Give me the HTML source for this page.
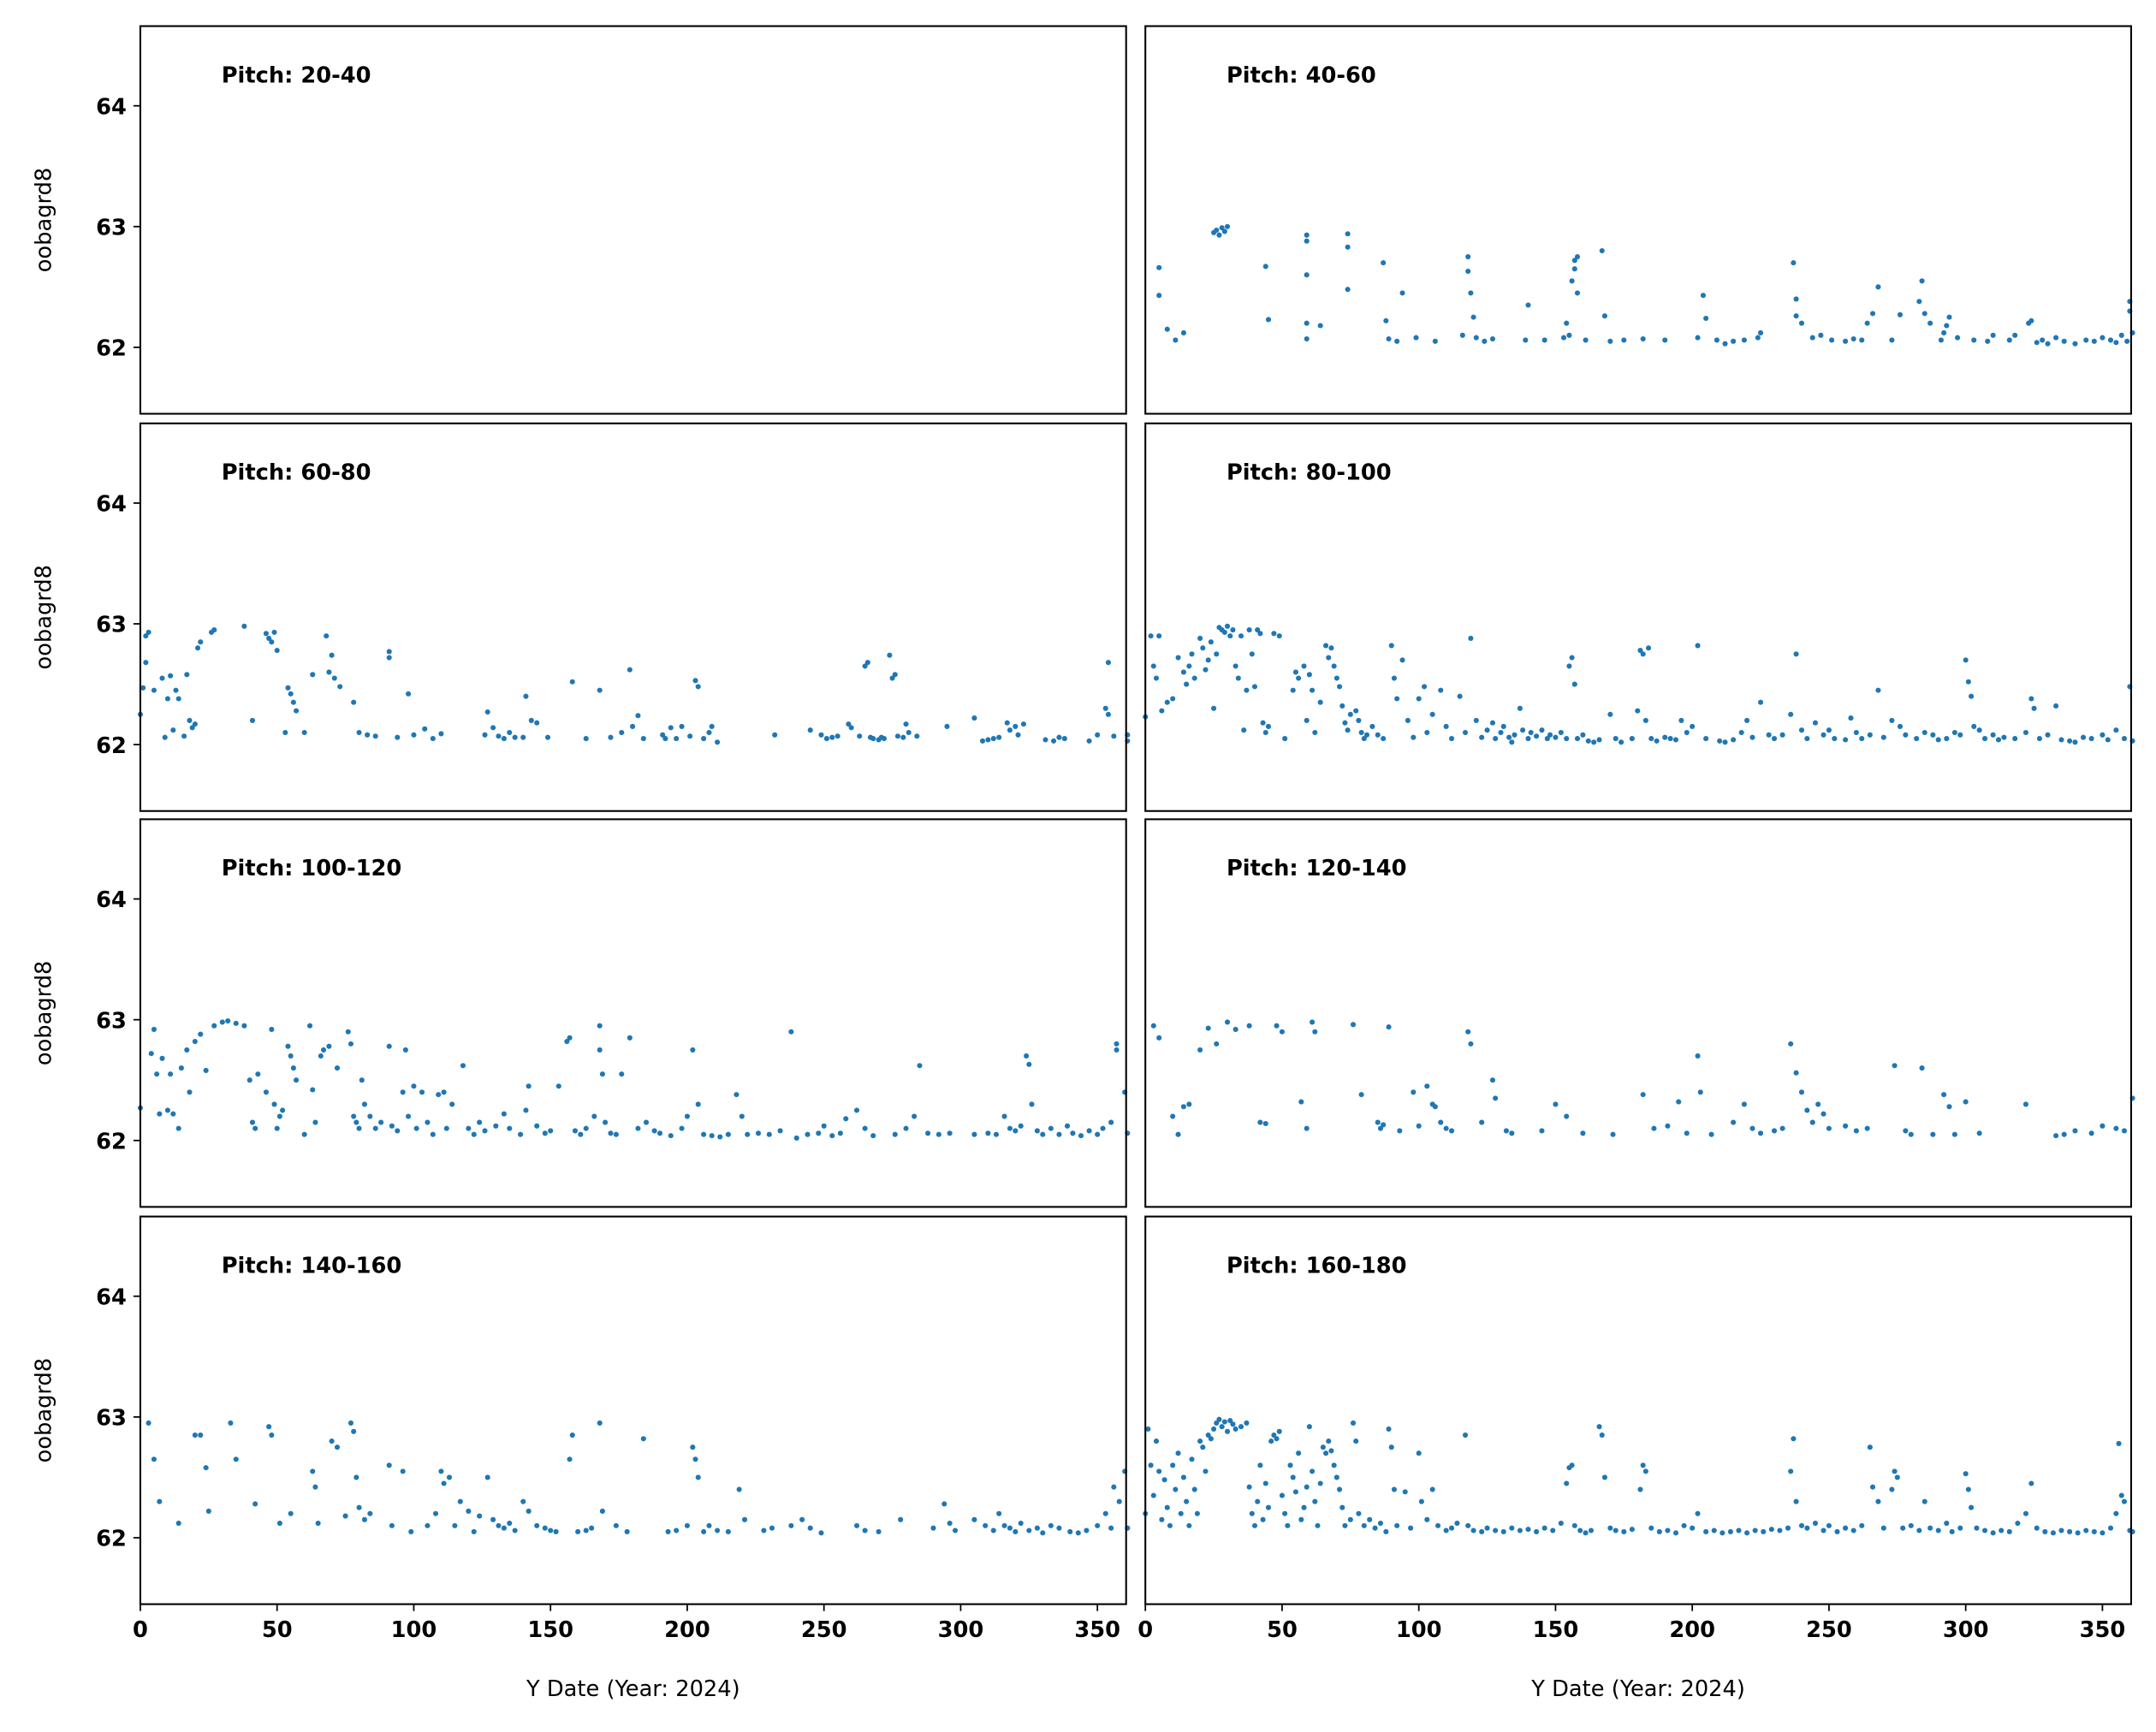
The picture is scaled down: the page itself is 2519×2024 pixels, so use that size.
<!DOCTYPE html>
<html><head><meta charset="utf-8"><style>
html,body{margin:0;padding:0;background:#fff;}
svg{display:block;}
text{font-family:"DejaVu Sans","Liberation Sans",sans-serif;}
</style></head><body>
<svg id="chart" width="2519" height="2024" viewBox="0 0 1568 1260" xmlns="http://www.w3.org/2000/svg"></svg>
<script>
const xTicks=[0,50,100,150,200,250,300,350];
const yTicks=[62,63,64];
const titles=["Pitch: 20-40","Pitch: 40-60","Pitch: 60-80","Pitch: 80-100","Pitch: 100-120","Pitch: 120-140","Pitch: 140-160","Pitch: 160-180"];
const p1=[];
const p2=[[5,62.66],[5,62.43],[8,62.15],[11,62.06],[14,62.12],[25,62.95],[26,62.97],[27,62.93],[28,62.99],[29,62.96],[30,63.0],[44,62.67],[45,62.23],[59,62.93],[59,62.88],[59,62.6],[59,62.2],[59,62.07],[64,62.18],[74,62.94],[74,62.83],[74,62.48],[87,62.7],[88,62.22],[89,62.07],[92,62.05],[94,62.45],[99,62.08],[106,62.05],[116,62.1],[118,62.75],[118,62.63],[119,62.45],[120,62.25],[121,62.08],[124,62.05],[127,62.07],[139,62.06],[140,62.35],[146,62.06],[153,62.08],[154,62.2],[155,62.1],[156,62.55],[157,62.72],[157,62.65],[158,62.75],[158,62.45],[161,62.06],[167,62.8],[168,62.26],[170,62.05],[175,62.06],[182,62.07],[190,62.06],[202,62.08],[204,62.43],[205,62.24],[209,62.06],[212,62.03],[215,62.05],[219,62.06],[224,62.08],[225,62.12],[237,62.7],[238,62.4],[238,62.26],[240,62.2],[244,62.08],[247,62.1],[251,62.06],[256,62.05],[259,62.07],[262,62.06],[264,62.2],[266,62.28],[268,62.5],[273,62.06],[276,62.27],[283,62.38],[284,62.55],[285,62.28],[287,62.2],[291,62.06],[292,62.12],[293,62.18],[294,62.25],[297,62.08],[303,62.06],[308,62.05],[310,62.1],[316,62.06],[318,62.1],[323,62.2],[324,62.22],[326,62.04],[328,62.06],[330,62.03],[333,62.08],[336,62.05],[340,62.03],[344,62.06],[347,62.05],[350,62.08],[353,62.06],[355,62.04],[357,62.1],[359,62.05],[360,62.38],[360,62.3],[361,62.12]];
const p3=[[0,62.25],[2,62.9],[3,62.93],[2,62.68],[1,62.47],[5,62.45],[8,62.55],[9,62.06],[10,62.38],[11,62.57],[12,62.12],[13,62.45],[14,62.38],[16,62.07],[17,62.58],[18,62.2],[19,62.14],[20,62.17],[21,62.8],[22,62.85],[26,62.93],[27,62.95],[38,62.98],[41,62.2],[46,62.92],[47,62.88],[48,62.85],[49,62.93],[50,62.78],[53,62.1],[54,62.47],[55,62.42],[56,62.35],[57,62.28],[60,62.1],[63,62.58],[68,62.9],[69,62.6],[70,62.74],[71,62.55],[73,62.48],[78,62.35],[80,62.1],[83,62.08],[86,62.07],[91,62.77],[91,62.72],[94,62.06],[98,62.42],[100,62.08],[104,62.13],[107,62.05],[110,62.09],[126,62.08],[127,62.27],[129,62.14],[131,62.07],[133,62.05],[135,62.1],[137,62.06],[140,62.06],[141,62.4],[143,62.2],[145,62.18],[149,62.06],[158,62.52],[163,62.05],[168,62.45],[172,62.06],[176,62.1],[179,62.62],[180,62.15],[182,62.24],[184,62.05],[191,62.08],[192,62.05],[194,62.14],[196,62.05],[198,62.15],[201,62.07],[203,62.53],[204,62.48],[206,62.05],[208,62.1],[209,62.15],[211,62.02],[232,62.08],[245,62.12],[249,62.08],[251,62.05],[253,62.06],[255,62.07],[259,62.17],[260,62.14],[263,62.07],[265,62.65],[266,62.68],[267,62.06],[268,62.05],[270,62.04],[271,62.06],[272,62.05],[274,62.74],[275,62.55],[276,62.58],[277,62.07],[279,62.06],[280,62.17],[281,62.1],[284,62.07],[295,62.15],[305,62.22],[308,62.03],[310,62.04],[312,62.05],[314,62.06],[317,62.18],[318,62.12],[320,62.15],[321,62.08],[323,62.17],[331,62.04],[334,62.03],[336,62.06],[338,62.05],[347,62.03],[350,62.08],[354,62.68],[353,62.3],[354,62.25],[356,62.07],[361,62.03],[361,62.08]];
const p4=[[0,62.23],[2,62.9],[3,62.65],[4,62.55],[5,62.9],[6,62.28],[8,62.35],[10,62.38],[12,62.72],[14,62.6],[15,62.5],[16,62.65],[17,62.75],[18,62.55],[20,62.88],[21,62.8],[22,62.62],[23,62.7],[24,62.85],[25,62.3],[26,62.75],[27,62.97],[28,62.95],[29,62.93],[30,62.98],[31,62.9],[32,62.95],[33,62.65],[34,62.55],[35,62.9],[36,62.12],[37,62.45],[38,62.95],[39,62.75],[40,62.48],[41,62.95],[42,62.92],[43,62.18],[44,62.1],[45,62.15],[47,62.92],[49,62.9],[51,62.05],[54,62.45],[55,62.6],[56,62.55],[58,62.65],[59,62.2],[60,62.58],[61,62.45],[62,62.1],[64,62.35],[66,62.82],[67,62.72],[68,62.8],[69,62.65],[70,62.55],[71,62.48],[72,62.32],[73,62.18],[74,62.12],[75,62.25],[77,62.28],[78,62.2],[79,62.1],[80,62.05],[81,62.08],[83,62.15],[85,62.08],[87,62.05],[90,62.82],[91,62.55],[92,62.38],[94,62.7],[96,62.2],[98,62.06],[100,62.38],[102,62.48],[103,62.1],[105,62.25],[108,62.45],[110,62.15],[112,62.05],[115,62.4],[117,62.1],[119,62.88],[121,62.2],[123,62.06],[125,62.12],[127,62.18],[128,62.05],[130,62.1],[131,62.15],[133,62.06],[134,62.02],[135,62.08],[137,62.3],[138,62.12],[140,62.05],[141,62.1],[143,62.07],[145,62.12],[147,62.05],[148,62.08],[150,62.06],[152,62.1],[154,62.05],[155,62.65],[156,62.72],[157,62.5],[158,62.05],[160,62.08],[162,62.03],[164,62.02],[166,62.04],[170,62.25],[172,62.05],[174,62.02],[178,62.05],[180,62.28],[181,62.78],[182,62.75],[183,62.2],[184,62.8],[185,62.05],[187,62.03],[190,62.06],[192,62.05],[194,62.04],[196,62.2],[198,62.1],[200,62.15],[202,62.82],[205,62.05],[210,62.03],[212,62.02],[215,62.04],[218,62.1],[220,62.2],[222,62.06],[225,62.35],[228,62.08],[230,62.05],[233,62.08],[236,62.25],[238,62.75],[240,62.12],[242,62.05],[245,62.18],[248,62.08],[250,62.12],[252,62.05],[256,62.04],[258,62.22],[260,62.1],[262,62.05],[265,62.08],[268,62.45],[270,62.06],[273,62.2],[276,62.15],[278,62.08],[282,62.05],[285,62.1],[288,62.08],[290,62.04],[293,62.05],[296,62.1],[298,62.08],[300,62.7],[301,62.52],[302,62.4],[303,62.15],[305,62.12],[307,62.05],[310,62.08],[312,62.04],[314,62.06],[318,62.05],[322,62.1],[324,62.38],[325,62.3],[327,62.05],[330,62.08],[333,62.32],[335,62.04],[338,62.03],[340,62.02],[343,62.06],[346,62.05],[350,62.08],[352,62.04],[355,62.12],[358,62.05],[360,62.48],[361,62.03]];
const p5=[[0,62.27],[5,62.92],[4,62.72],[6,62.55],[7,62.22],[8,62.68],[10,62.25],[11,62.55],[12,62.22],[14,62.1],[15,62.6],[17,62.75],[18,62.4],[20,62.82],[22,62.88],[24,62.58],[27,62.95],[30,62.98],[32,62.99],[35,62.97],[38,62.95],[40,62.5],[41,62.15],[42,62.1],[43,62.55],[46,62.4],[48,62.92],[49,62.3],[50,62.1],[51,62.2],[52,62.25],[54,62.78],[55,62.7],[56,62.6],[57,62.5],[60,62.05],[62,62.95],[63,62.42],[64,62.15],[66,62.7],[67,62.75],[69,62.78],[72,62.6],[76,62.9],[77,62.8],[78,62.2],[79,62.15],[80,62.1],[81,62.5],[82,62.3],[84,62.2],[86,62.1],[88,62.15],[91,62.78],[92,62.12],[94,62.08],[96,62.4],[97,62.75],[98,62.2],[100,62.45],[101,62.1],[103,62.4],[105,62.15],[107,62.05],[109,62.38],[111,62.4],[112,62.1],[114,62.3],[118,62.62],[120,62.1],[122,62.05],[124,62.15],[126,62.08],[130,62.12],[133,62.22],[135,62.1],[139,62.05],[141,62.25],[142,62.45],[145,62.12],[148,62.06],[150,62.08],[153,62.45],[156,62.82],[157,62.85],[159,62.08],[161,62.05],[163,62.1],[166,62.2],[168,62.95],[168,62.75],[169,62.55],[170,62.15],[172,62.06],[174,62.05],[176,62.55],[179,62.85],[182,62.1],[185,62.15],[188,62.08],[190,62.06],[194,62.04],[198,62.1],[200,62.2],[202,62.75],[204,62.3],[206,62.05],[209,62.04],[212,62.03],[215,62.05],[218,62.38],[220,62.2],[222,62.05],[226,62.06],[230,62.05],[234,62.08],[238,62.9],[240,62.02],[244,62.05],[248,62.06],[250,62.12],[253,62.04],[256,62.06],[258,62.18],[262,62.25],[265,62.1],[268,62.04],[276,62.05],[280,62.1],[283,62.2],[285,62.62],[288,62.06],[292,62.05],[296,62.06],[305,62.05],[310,62.06],[313,62.05],[316,62.2],[318,62.1],[320,62.08],[322,62.12],[324,62.7],[325,62.63],[326,62.3],[328,62.08],[330,62.05],[333,62.1],[336,62.05],[339,62.12],[341,62.06],[344,62.04],[347,62.08],[350,62.05],[352,62.1],[355,62.15],[357,62.8],[357,62.75],[360,62.4],[361,62.06]];
const p6=[[3,62.95],[5,62.85],[10,62.2],[12,62.05],[14,62.28],[16,62.3],[20,62.75],[23,62.93],[26,62.8],[30,62.98],[33,62.92],[38,62.95],[42,62.15],[44,62.14],[48,62.95],[50,62.9],[57,62.32],[59,62.1],[61,62.98],[62,62.9],[76,62.96],[79,62.38],[85,62.15],[86,62.1],[87,62.13],[89,62.94],[93,62.08],[98,62.4],[100,62.12],[103,62.45],[105,62.3],[106,62.28],[108,62.15],[110,62.1],[112,62.08],[118,62.9],[119,62.8],[123,62.15],[127,62.5],[128,62.35],[132,62.08],[134,62.06],[145,62.08],[150,62.3],[154,62.2],[160,62.06],[171,62.05],[182,62.38],[186,62.1],[191,62.12],[195,62.32],[198,62.06],[202,62.7],[203,62.4],[207,62.05],[215,62.15],[219,62.3],[222,62.1],[225,62.06],[230,62.08],[233,62.1],[236,62.8],[238,62.56],[240,62.4],[242,62.25],[244,62.15],[246,62.3],[248,62.22],[250,62.1],[256,62.12],[260,62.08],[264,62.1],[274,62.62],[278,62.08],[280,62.05],[284,62.6],[288,62.05],[292,62.38],[294,62.28],[296,62.05],[300,62.32],[305,62.06],[322,62.3],[333,62.04],[336,62.05],[340,62.08],[346,62.06],[350,62.12],[355,62.1],[358,62.08],[361,62.35]];
const p7=[[3,62.95],[5,62.65],[7,62.3],[14,62.12],[20,62.85],[22,62.85],[24,62.58],[25,62.22],[33,62.95],[35,62.65],[42,62.28],[47,62.92],[48,62.85],[51,62.12],[55,62.2],[63,62.55],[64,62.42],[65,62.12],[70,62.8],[72,62.75],[75,62.18],[77,62.95],[78,62.88],[79,62.5],[80,62.25],[82,62.15],[84,62.2],[91,62.6],[92,62.1],[96,62.55],[99,62.05],[105,62.1],[108,62.2],[110,62.55],[111,62.45],[113,62.5],[115,62.1],[117,62.3],[120,62.22],[122,62.05],[124,62.18],[127,62.5],[129,62.15],[131,62.1],[133,62.08],[135,62.12],[137,62.06],[140,62.3],[142,62.22],[145,62.1],[148,62.08],[150,62.06],[152,62.05],[157,62.65],[158,62.85],[160,62.05],[163,62.06],[165,62.08],[168,62.95],[169,62.22],[174,62.1],[178,62.05],[184,62.82],[193,62.05],[196,62.06],[200,62.1],[202,62.75],[203,62.65],[204,62.5],[206,62.05],[208,62.1],[211,62.06],[215,62.05],[219,62.4],[221,62.15],[228,62.06],[231,62.08],[238,62.1],[242,62.15],[245,62.08],[249,62.04],[262,62.1],[265,62.06],[270,62.05],[278,62.15],[290,62.08],[294,62.28],[296,62.12],[298,62.06],[305,62.15],[309,62.1],[312,62.06],[314,62.2],[316,62.1],[318,62.08],[320,62.05],[322,62.12],[325,62.06],[328,62.08],[330,62.04],[333,62.1],[336,62.08],[340,62.05],[343,62.04],[346,62.06],[350,62.1],[353,62.2],[355,62.08],[356,62.42],[358,62.3],[360,62.55],[361,62.08]];
const p8=[[0,62.2],[1,62.9],[2,62.6],[3,62.35],[4,62.8],[5,62.55],[6,62.15],[7,62.48],[8,62.25],[9,62.1],[10,62.6],[11,62.4],[12,62.7],[13,62.2],[14,62.5],[15,62.3],[16,62.1],[17,62.65],[18,62.4],[19,62.2],[20,62.8],[21,62.75],[22,62.55],[23,62.85],[24,62.82],[25,62.9],[26,62.95],[27,62.98],[28,62.92],[29,62.96],[30,62.88],[31,62.97],[32,62.94],[33,62.9],[35,62.92],[37,62.95],[38,62.42],[39,62.2],[40,62.1],[41,62.3],[42,62.6],[43,62.15],[44,62.45],[45,62.25],[46,62.8],[47,62.85],[48,62.82],[49,62.88],[50,62.35],[51,62.2],[52,62.1],[53,62.6],[54,62.5],[55,62.38],[56,62.7],[57,62.15],[58,62.25],[59,62.42],[60,62.92],[61,62.55],[62,62.3],[63,62.1],[64,62.45],[65,62.75],[66,62.7],[67,62.8],[68,62.72],[69,62.6],[70,62.5],[71,62.4],[72,62.25],[73,62.1],[75,62.15],[76,62.95],[77,62.8],[78,62.2],[80,62.1],[82,62.15],[84,62.08],[86,62.12],[88,62.05],[89,62.9],[90,62.75],[91,62.4],[92,62.1],[95,62.38],[97,62.08],[100,62.7],[101,62.3],[103,62.15],[105,62.4],[107,62.1],[110,62.06],[112,62.08],[114,62.12],[117,62.85],[118,62.1],[120,62.06],[123,62.05],[125,62.08],[128,62.06],[131,62.05],[134,62.08],[137,62.06],[140,62.07],[143,62.05],[146,62.08],[149,62.06],[152,62.12],[154,62.45],[155,62.58],[156,62.6],[157,62.1],[159,62.06],[161,62.04],[163,62.06],[166,62.92],[167,62.85],[168,62.5],[170,62.08],[172,62.06],[175,62.05],[178,62.07],[181,62.4],[182,62.6],[183,62.55],[185,62.08],[188,62.05],[191,62.06],[194,62.04],[197,62.1],[200,62.08],[202,62.2],[205,62.05],[208,62.06],[211,62.04],[214,62.05],[217,62.06],[220,62.04],[223,62.06],[226,62.05],[229,62.07],[232,62.06],[235,62.08],[236,62.55],[237,62.82],[238,62.3],[240,62.1],[242,62.08],[245,62.12],[248,62.06],[250,62.1],[253,62.05],[256,62.08],[259,62.06],[262,62.1],[265,62.75],[266,62.42],[268,62.3],[270,62.08],[273,62.4],[274,62.55],[275,62.5],[277,62.08],[280,62.1],[283,62.06],[285,62.3],[287,62.08],[290,62.06],[293,62.12],[295,62.05],[298,62.08],[300,62.53],[301,62.4],[302,62.25],[304,62.08],[307,62.06],[310,62.04],[313,62.06],[316,62.05],[319,62.12],[322,62.2],[324,62.45],[326,62.08],[329,62.05],[332,62.04],[335,62.06],[338,62.05],[341,62.04],[344,62.06],[347,62.05],[350,62.04],[353,62.08],[355,62.2],[356,62.78],[357,62.35],[358,62.3],[360,62.06],[361,62.05]];
const series=[p1,p2,p3,p4,p5,p6,p7,p8];

const NS="http://www.w3.org/2000/svg";
const svg=document.getElementById('chart');
const X0=[102,833], PW=717, XMIN=0, XMAX=360.5;
const Y0=[19,308,596,885], PH=282, YMIN=61.45, YMAX=64.66;
function mk(tag,attrs){const e=document.createElementNS(NS,tag);for(const k in attrs)e.setAttribute(k,attrs[k]);svg.appendChild(e);return e;}
series.forEach((data,i)=>{
  const col=i%2,row=Math.floor(i/2);
  const left=X0[col],top=Y0[row];
  const sx=d=>left+(d-XMIN)/(XMAX-XMIN)*PW;
  const sy=v=>top+(YMAX-v)/(YMAX-YMIN)*PH;
  data.forEach(p=>{
    const c=mk('circle',{cx:sx(p[0]),cy:sy(p[1]),r:1.9,fill:'#1f77b4'});
    
    
  });
  const fr=mk('rect',{x:left,y:top,width:PW,height:PH,fill:'none',stroke:'#000','stroke-width':1.3});
  
  
  const t=mk('text',{x:left+59,y:top+41,'font-size':16,'font-weight':'bold'});
  t.textContent=titles[i];
  
  
  if(col===0){
    yTicks.forEach(v=>{
      mk('line',{x1:left-5,x2:left,y1:sy(v),y2:sy(v),stroke:'#000','stroke-width':1.1});
      const tl=mk('text',{x:left-10,y:sy(v)+6,'font-size':16,'font-weight':'bold','text-anchor':'end'});
      tl.textContent=v;
      
      
    });
    const yl=mk('text',{x:0,y:0,'font-size':16,'text-anchor':'middle',transform:`translate(37,${top+PH/2}) rotate(-90)`});
    yl.textContent='oobagrd8';
    
    
  }
  if(row===3){
    xTicks.forEach(d=>{
      mk('line',{x1:sx(d),x2:sx(d),y1:top+PH,y2:top+PH+5,stroke:'#000','stroke-width':1.1});
      const tl=mk('text',{x:sx(d),y:top+PH+24,'font-size':16,'font-weight':'bold','text-anchor':'middle'});
      tl.textContent=d;
      
      
    });
    const xl=mk('text',{x:left+PW/2,y:1234,'font-size':16,'text-anchor':'middle'});
    xl.textContent='Y Date (Year: 2024)';
    
    
  }
});
</script>
</body></html>
